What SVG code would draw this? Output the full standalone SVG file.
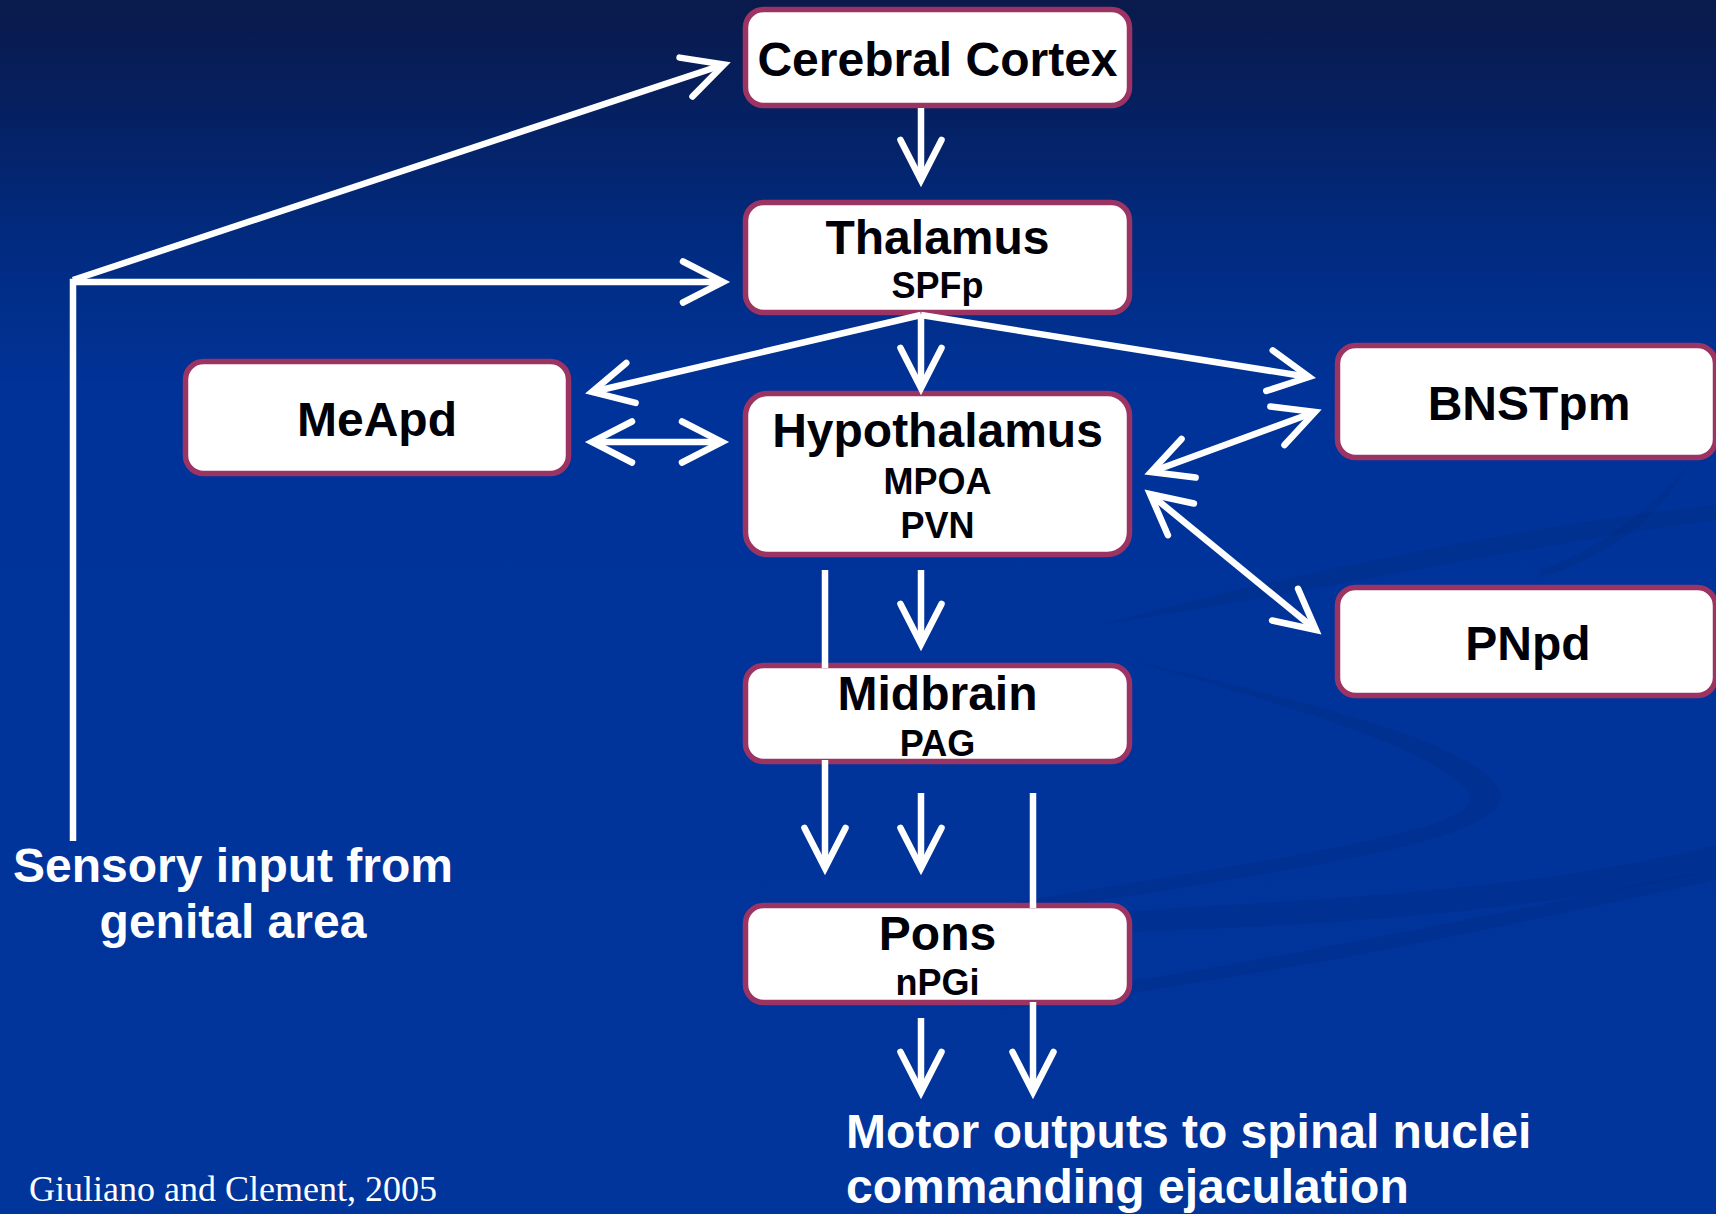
<svg xmlns="http://www.w3.org/2000/svg" width="1716" height="1214" viewBox="0 0 1716 1214">
  <defs>
    <linearGradient id="bg" x1="0" y1="0" x2="0" y2="1">
      <stop offset="0" stop-color="#0a1a4b"/>
      <stop offset="0.08" stop-color="#061f5e"/>
      <stop offset="0.2" stop-color="#012b80"/>
      <stop offset="0.33" stop-color="#00339a"/>
      <stop offset="1" stop-color="#00359c"/>
    </linearGradient>
    <marker id="ah" markerUnits="userSpaceOnUse" markerWidth="70" markerHeight="70" viewBox="-55 -35 70 70" refX="0" refY="0" orient="auto-start-reverse" overflow="visible">
      <path d="M-40,-20.5 L0,0 L-40,20.5" fill="none" stroke="#ffffff" stroke-width="6.5" stroke-linecap="round" stroke-linejoin="miter"/>
    </marker>
    <style>
      .box { fill: #ffffff; stroke: #9b3363; stroke-width: 5.5; }
      .t1 { font-family: "Liberation Sans", Arial, sans-serif; font-weight: bold; font-size: 48px; fill: #000008; text-anchor: middle; }
      .t2 { font-family: "Liberation Sans", Arial, sans-serif; font-weight: bold; font-size: 36px; fill: #000008; text-anchor: middle; }
      .wt { font-family: "Liberation Sans", Arial, sans-serif; font-weight: bold; font-size: 48px; fill: #ffffff; }
      .cite { font-family: "Liberation Serif", "Times New Roman", serif; font-size: 36px; fill: #ffffff; }
      .ln { fill: none; stroke: #ffffff; stroke-width: 6.5; }
      .arr { marker-end: url(#ah); }
      .swoosh { fill: #002c86; opacity: 0.45; }
    </style>
  </defs>

  <rect x="0" y="0" width="1716" height="1214" fill="url(#bg)"/>

  <g id="background-swooshes">
    <path class="swoosh" d="M1100,625 C1300,570 1560,520 1716,505 L1716,520 C1560,540 1320,590 1100,625 Z"/>
    <path class="swoosh" d="M1130,660 C1300,700 1470,740 1500,790 C1520,840 1300,870 1000,915 L1000,905 C1300,855 1480,830 1470,795 C1440,750 1300,710 1130,660 Z"/>
    <path class="swoosh" d="M1000,920 C1250,900 1500,900 1716,845 L1716,870 C1500,920 1250,930 1000,935 Z"/>
    <path class="swoosh" d="M1000,1000 C1300,960 1550,900 1716,870 L1716,880 C1550,915 1300,975 1000,1010 Z"/>
    <path class="swoosh" d="M1690,462 C1660,520 1600,560 1540,577 L1540,570 C1600,550 1650,510 1690,462 Z"/>
  </g>

  <g id="node-cortex">
    <rect class="box" x="745.5" y="9.5" width="384" height="96" rx="18"/>
    <text class="t1" x="937.5" y="76">Cerebral Cortex</text>
  </g>
  <g id="node-thalamus">
    <rect class="box" x="745.5" y="202.5" width="384" height="110" rx="18"/>
    <text class="t1" x="937.5" y="254">Thalamus</text>
    <text class="t2" x="937.5" y="298">SPFp</text>
  </g>
  <g id="node-meapd">
    <rect class="box" x="185.5" y="361.5" width="383" height="112" rx="18"/>
    <text class="t1" x="377" y="436">MeApd</text>
  </g>
  <g id="node-hypothalamus">
    <rect class="box" x="745.5" y="393.5" width="384" height="161" rx="22"/>
    <text class="t1" x="937.5" y="447">Hypothalamus</text>
    <text class="t2" x="937.5" y="494">MPOA</text>
    <text class="t2" x="937.5" y="538">PVN</text>
  </g>
  <g id="node-bnstpm">
    <rect class="box" x="1337.5" y="345.5" width="378" height="112" rx="18"/>
    <text class="t1" x="1529" y="420">BNSTpm</text>
  </g>
  <g id="node-pnpd">
    <rect class="box" x="1337.5" y="587.5" width="378" height="108" rx="18"/>
    <text class="t1" x="1528" y="660">PNpd</text>
  </g>
  <g id="node-midbrain">
    <rect class="box" x="745.5" y="665.5" width="384" height="96" rx="18"/>
    <text class="t1" x="937.5" y="710">Midbrain</text>
    <text class="t2" x="937.5" y="756">PAG</text>
  </g>
  <g id="node-pons">
    <rect class="box" x="745.5" y="905.5" width="384" height="97" rx="18"/>
    <text class="t1" x="937.5" y="950">Pons</text>
    <text class="t2" x="937.5" y="995">nPGi</text>
  </g>

  <g id="connectors">
    <path class="ln arr" d="M73,841 L73,282 L723,282"/>
    <path class="ln arr" d="M73,280 L724,64.5"/>
    <path class="ln arr" d="M921,108 L921,180"/>
    <path class="ln arr" d="M921,315 L921,388"/>
    <path class="ln arr" d="M921,315 L592,392"/>
    <path class="ln arr" d="M921,315 L1309,377"/>
    <path class="ln arr" d="M592,442 L722,442" marker-start="url(#ah)"/>
    <path class="ln arr" d="M1151,472 L1315,412" marker-start="url(#ah)"/>
    <path class="ln arr" d="M1150,494 L1316,630" marker-start="url(#ah)"/>
    <path class="ln" d="M825,570 L825,668"/>
    <path class="ln arr" d="M825,760 L825,868"/>
    <path class="ln arr" d="M921,570 L921,644"/>
    <path class="ln arr" d="M921,793 L921,868"/>
    <path class="ln" d="M1033,793 L1033,908"/>
    <path class="ln arr" d="M1033,1002 L1033,1092"/>
    <path class="ln arr" d="M921,1018 L921,1092"/>
  </g>

  <g id="labels">
    <text class="wt" text-anchor="middle" x="233" y="882">Sensory input from</text>
    <text class="wt" text-anchor="middle" x="233" y="938">genital area</text>
    <text class="wt" x="846" y="1148">Motor outputs to spinal nuclei</text>
    <text class="wt" x="846" y="1203">commanding ejaculation</text>
    <text class="cite" x="29" y="1201">Giuliano and Clement, 2005</text>
  </g>
</svg>
